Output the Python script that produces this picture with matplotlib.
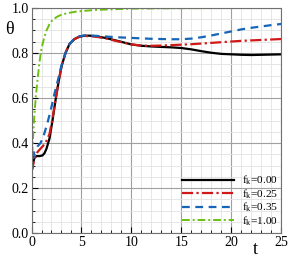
import matplotlib

matplotlib.use("Agg")
import matplotlib.pyplot as plt
from matplotlib.ticker import MultipleLocator

plt.rcParams["font.family"] = ["Liberation Serif", "DejaVu Serif"]
plt.rcParams["mathtext.fontset"] = "custom"
plt.rcParams["mathtext.rm"] = "Liberation Serif"
plt.rcParams["mathtext.it"] = "Liberation Serif"

# --- data ------------------------------------------------------------------
t_f000 = [0, 0.15, 0.3, 0.5, 0.8, 1.1, 1.3, 1.5, 1.8, 2.1, 2.4, 2.7, 3.0, 3.4,
          3.8, 4.3, 4.8, 5.3, 5.8, 6.5, 7.5, 8.5, 10, 11, 12, 13, 14, 15, 16,
          17, 18, 19, 20, 21, 22, 23, 24, 25]
th_f000 = [0.27, 0.31, 0.335, 0.342, 0.342, 0.345, 0.355, 0.375, 0.42, 0.50,
           0.59, 0.67, 0.74, 0.80, 0.84, 0.862, 0.873, 0.877, 0.877, 0.874,
           0.866, 0.855, 0.838, 0.832, 0.829, 0.827, 0.825, 0.822, 0.816,
           0.808, 0.801, 0.796, 0.794, 0.792, 0.791, 0.792, 0.793, 0.794]

t_f025 = [0, 0.3, 0.6, 1.0, 1.4, 1.8, 2.1, 2.4, 2.7, 3.0, 3.4, 3.8, 4.3, 4.8,
          5.3, 5.8, 6.5, 7.5, 8.5, 10, 11, 12, 13, 14, 15, 16, 17, 18, 19, 20,
          21, 22, 23, 24, 25]
th_f025 = [0.27, 0.33, 0.36, 0.38, 0.40, 0.44, 0.51, 0.59, 0.67, 0.74, 0.80,
           0.84, 0.862, 0.872, 0.875, 0.875, 0.872, 0.864, 0.853, 0.838, 0.833,
           0.832, 0.833, 0.835, 0.837, 0.839, 0.842, 0.845, 0.848, 0.851,
           0.854, 0.856, 0.858, 0.860, 0.862]

t_f035 = [0, 0.27, 0.6, 0.9, 1.2, 1.6, 1.93, 2.3, 2.7, 3.0, 3.4, 3.8, 4.3, 4.8,
          5.3, 5.8, 6.5, 7.5, 8.5, 10, 11, 12, 13, 14, 15, 16, 17, 18, 19, 20,
          21, 22, 23, 24, 25]
th_f035 = [0.27, 0.36, 0.385, 0.40, 0.43, 0.49, 0.547, 0.62, 0.69, 0.745,
           0.80, 0.84, 0.864, 0.874, 0.878, 0.878, 0.876, 0.873, 0.870, 0.867,
           0.865, 0.863, 0.862, 0.861, 0.861, 0.864, 0.870, 0.878, 0.887,
           0.896, 0.905, 0.912, 0.918, 0.924, 0.929]

t_f100 = [0, 0.1, 0.25, 0.43, 0.6, 0.8, 1.0, 1.25, 1.5, 1.8, 2.1, 2.6, 3.0,
          3.6, 4.5, 5.5, 6.3, 8, 10, 12, 15, 20, 25]
th_f100 = [0.28, 0.38, 0.50, 0.606, 0.68, 0.76, 0.82, 0.865, 0.90, 0.928,
           0.947, 0.962, 0.970, 0.977, 0.984, 0.988, 0.991, 0.994, 0.997,
           0.998, 0.999, 1.0, 1.0]

labels = ["0.00", "0.25", "0.35", "1.00"]


def main():
    fig = plt.figure(figsize=(2.89, 2.57), dpi=100)
    ax = fig.add_axes([0.109, 0.093, 0.865, 0.876])

    ax.plot(t_f000, th_f000, color="black", lw=1.6, ls="-",
            label=r"f$_\mathregular{k}$=" + labels[0])
    ax.plot(t_f025, th_f025, color="#d01818", lw=1.6, ls=(0, (5, 1.5, 1, 1.5)),
            label=r"f$_\mathregular{k}$=" + labels[1])
    ax.plot(t_f035, th_f035, color="#1565b8", lw=1.6, ls=(0, (3.5, 2.5)),
            label=r"f$_\mathregular{k}$=" + labels[2])
    ax.plot(t_f100, th_f100, color="#6abf10", lw=1.4, ls=(0, (4, 1.5, 1, 1.5)),
            label=r"f$_\mathregular{k}$=" + labels[3])

    ax.set_xlim(0, 25)
    ax.set_ylim(0, 1)
    ax.xaxis.set_major_locator(MultipleLocator(5))
    ax.xaxis.set_minor_locator(MultipleLocator(1))
    ax.yaxis.set_major_locator(MultipleLocator(0.2))
    ax.yaxis.set_minor_locator(MultipleLocator(0.05))
    ax.yaxis.set_major_formatter(plt.FormatStrFormatter("%.1f"))
    ax.grid(which="major", color="#a0a0a0", lw=0.8)
    ax.grid(which="minor", color="#e2e2e2", lw=0.6)
    ax.set_axisbelow(True)
    ax.tick_params(which="both", direction="in", labelsize=10, pad=2,
                   top=False, right=False)
    ax.tick_params(which="major", length=4, width=0.8)
    ax.tick_params(which="minor", length=2, width=0.6)
    for sp in ax.spines.values():
        sp.set_color("#707070")
        sp.set_linewidth(0.8)

    fig.text(0.033, 0.885, r"$\theta$", fontsize=13, ha="center", va="center")
    fig.text(0.882, 0.03, "t", fontsize=13, ha="center", va="center")

    # tight rows like the original; spacing 0 keeps the labels from touching
    ax.legend(loc="lower right", bbox_to_anchor=(1.015, -0.007), frameon=False,
              fontsize=8.2, handlelength=4.5, handletextpad=0.75,
              labelspacing=0.0, borderaxespad=0.2)

    fig.savefig("out.png", dpi=100)
    plt.close(fig)


if __name__ == "__main__":
    main()
